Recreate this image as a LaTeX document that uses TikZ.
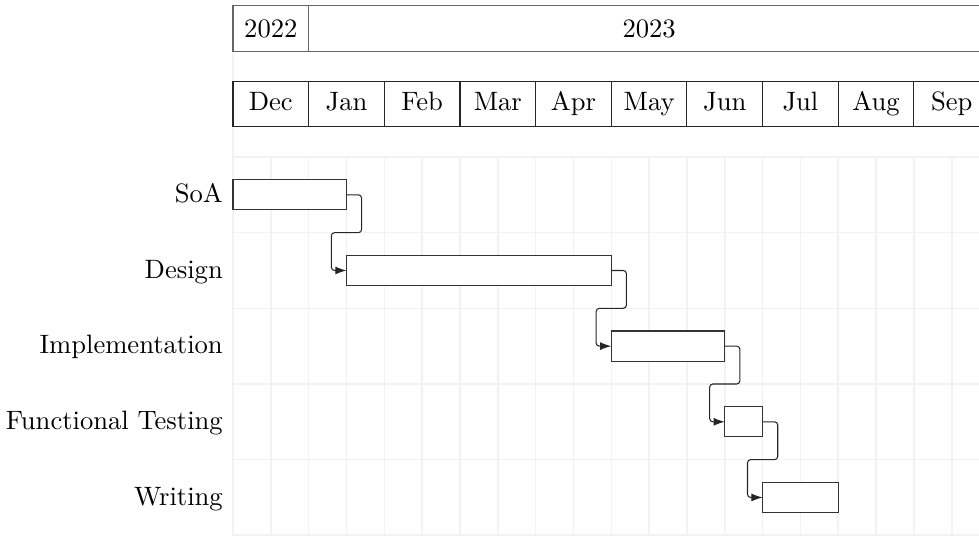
\documentclass[tikz,border=0pt]{standalone}
\usetikzlibrary{arrows.meta}
\begin{document}
\begin{tikzpicture}[
  gridline/.style={draw=black!5, line width=0.6pt},
  yearcell/.style={draw=black!60, line width=0.4pt, minimum height=0.6cm, inner sep=0pt, outer sep=0pt, anchor=south west},
  monthcell/.style={draw=black!85, line width=0.4pt, minimum height=0.6cm, minimum width=1cm, inner sep=0pt, outer sep=0pt, anchor=south west},
  taskbar/.style={draw=black!80, fill=white, line width=0.4pt, minimum height=0.4cm, inner sep=0pt, outer sep=0pt, anchor=west},
  tasklabel/.style={anchor=base east, inner sep=0pt},
  celltext/.style={anchor=base, inner sep=0pt},
  tasklink/.style={draw=black!85, line width=0.4pt, rounded corners=1.2pt, -{Latex[length=4.2pt,width=3pt]}}
]
\clip (-3.0796,-5) rectangle (9.86,2.075);
\useasboundingbox (-3.0796,-5) rectangle (9.86,2.075);
% grid
\foreach \i in {0,...,20} \draw[gridline] (\i*0.5,0) -- (\i*0.5,-5.1);
\foreach \j in {0,...,5} \draw[gridline] (0,-\j) -- (10.2,-\j);
\draw[gridline] (0,0) -- (0,2);
% years
\node[yearcell, minimum width=1cm] (y22) at (0,1.4) {};
\node[yearcell, minimum width=9cm] (y23) at (1,1.4) {};
\node[celltext] (ty22) at (0.5,1.582) {2022};
\node[celltext] (ty23) at (5.5,1.582) {2023};
% months
\foreach \m [count=\k from 0] in {Dec,Jan,Feb,Mar,Apr,May,Jun,Jul,Aug,Sep} {
  \node[monthcell] (m\k) at (\k,0.4) {};
  \node[celltext] (tm\k) at (\k+0.5,0.612) {\m};
}
% tasks
\node[tasklabel] (l1) at (-0.128,-0.6) {SoA};
\node[tasklabel] (l2) at (-0.128,-1.6) {Design};
\node[tasklabel] (l3) at (-0.128,-2.6) {Implementation};
\node[tasklabel] (l4) at (-0.128,-3.6) {Functional Testing};
\node[tasklabel] (l5) at (-0.128,-4.6) {Writing};
\node[taskbar, minimum width=1.5cm] (b1) at (0,-0.5) {};
\node[taskbar, minimum width=3.5cm] (b2) at (1.5,-1.5) {};
\node[taskbar, minimum width=1.5cm] (b3) at (5,-2.5) {};
\node[taskbar, minimum width=0.5cm] (b4) at (6.5,-3.5) {};
\node[taskbar, minimum width=1cm] (b5) at (7,-4.5) {};
% links
\draw[tasklink] (b1.east) -- ++(0.2,0) -- ++(0,-0.5) -| ([xshift=-0.2cm]b2.west) -- (b2.west);
\draw[tasklink] (b2.east) -- ++(0.2,0) -- ++(0,-0.5) -| ([xshift=-0.2cm]b3.west) -- (b3.west);
\draw[tasklink] (b3.east) -- ++(0.2,0) -- ++(0,-0.5) -| ([xshift=-0.2cm]b4.west) -- (b4.west);
\draw[tasklink] (b4.east) -- ++(0.2,0) -- ++(0,-0.5) -| ([xshift=-0.2cm]b5.west) -- (b5.west);
\end{tikzpicture}
\end{document}
